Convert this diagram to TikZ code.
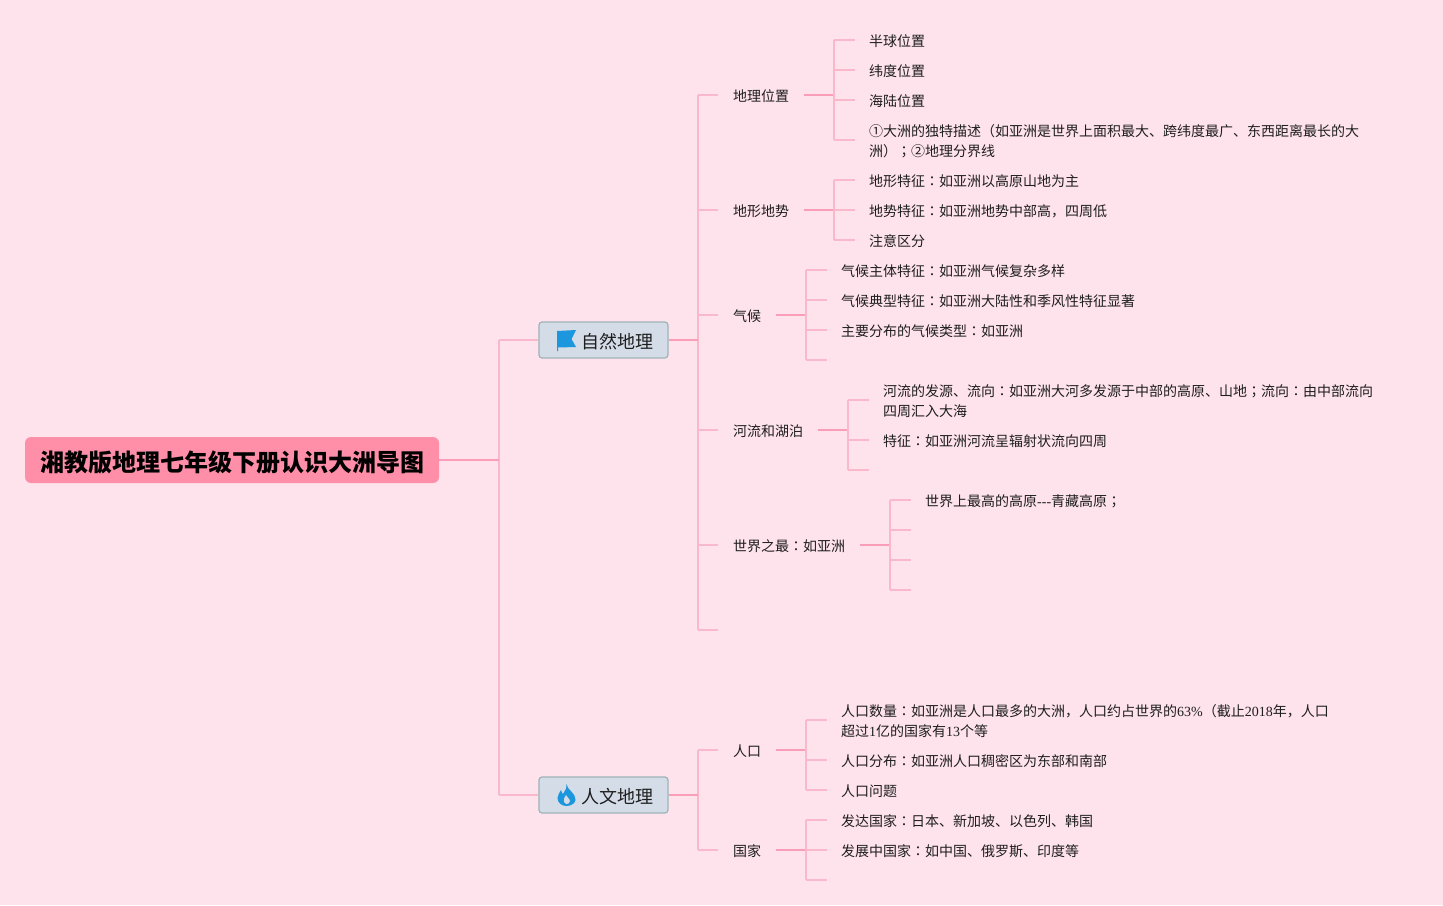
\documentclass[tikz,border=0pt]{standalone}
\usepackage{fontspec}
\setmainfont{Noto Sans CJK SC}
\newfontfamily\latf[Ligatures=NoCommon]{Liberation Serif}
\newfontfamily\tcf{Noto Sans CJK TC}
\newcommand{\lt}[1]{{\latf #1}}
\newcommand{\cc}{{\tcf ：}}
\newcommand{\sm}{{\tcf ；}}
\definecolor{bgc}{HTML}{FEE3EC}
\definecolor{rootc}{HTML}{FF8FA9}
\definecolor{linec}{HTML}{F9B8CC}
\definecolor{linedc}{HTML}{F99DB9}
\definecolor{boxc}{HTML}{D4DCE8}
\definecolor{boxl}{HTML}{9DB3B8}
\definecolor{iconc}{HTML}{1C96DC}
\definecolor{txtc}{HTML}{1E1E1E}
\tikzset{
 x=1pt,y=-1pt,
 every node/.style={font=\fontsize{14}{20}\selectfont,text=txtc},
 conn/.style={draw=linec,line width=1.4pt},
 conn2/.style={draw=linedc,line width=1.6pt},
 leaf/.style={anchor=west,inner sep=0pt,align=left,yshift=-0.6pt},
 lbl/.style={anchor=west,inner sep=0pt,yshift=-0.6pt},
 rootbox/.style={fill=rootc,rounded corners=6pt,inner sep=0pt,minimum width=414pt,minimum height=46pt},
 roottext/.style={anchor=center,inner sep=0pt,text=black,font=\fontsize{24}{30}\selectfont\bfseries},
 mainbox/.style={fill=boxc,draw=boxl,line width=1.2pt,rounded corners=3pt,inner sep=0pt,minimum width=129pt,minimum height=36pt},
}
\begin{document}
\begin{tikzpicture}
\useasboundingbox (0,0) rectangle (1443,905);
\fill[bgc] (0,0) rectangle (1443,905);
% trunks
\coordinate (t0a) at (499,340); \coordinate (t0b) at (499,795); \coordinate (t0m) at (499,460);
\coordinate (t1a) at (698,95); \coordinate (t1b) at (698,630); \coordinate (t1m) at (698,340);
\coordinate (t2a) at (698,750); \coordinate (t2b) at (698,850); \coordinate (t2m) at (698,795);
\coordinate (j630) at (698,630); \coordinate (s630) at (718,630);
\node[rootbox] (root) at (232,460) {};
\node[roottext] (roott) at (232.5,462) {湘教版地理七年级下册认识大洲导图};
\node[mainbox] (nat) at (603.5,340) {};
\node[mainbox] (hum) at (603.5,795) {};
\node[lbl] (natt) at (581,341.5) {\fontsize{18}{20}\selectfont 自然地理};
\node[lbl] (humt) at (581,796) {\fontsize{18}{20}\selectfont 人文地理};
% icons
\fill[iconc] (557,331) -- (576,330) -- (571.5,339) -- (576,347) -- (558,347.5) -- (558,351) -- (557,351) -- cycle;
\fill[iconc] (566.5,784) .. controls (567,790) and (576,793) .. (575.5,800) .. controls (575,804) and (570,806) .. (566.5,806)
  .. controls (562,806) and (557.5,803) .. (557.5,798) .. controls (557.5,795) and (560,792) .. (561,790)
  .. controls (561.5,792) and (562,793) .. (563,794) .. controls (565,791) and (567,788) .. (566.5,784) -- cycle;
\fill[boxc] (566.5,804) .. controls (563,803) and (563,799) .. (566,795) .. controls (566.5,797) and (570,799) .. (570,801) .. controls (570,803) and (568,804) .. (566.5,804) -- cycle;
\draw[conn] (t0a) -- (t0b);
\draw[conn2] (root.east) -- (t0m);
\draw[conn] (t0a) -- (nat.west);
\draw[conn] (t0b) -- (hum.west);
\draw[conn] (t1a) -- (t1b);
\draw[conn] (t2a) -- (t2b);
\draw[conn] (j630) -- (s630);
\draw[conn2] (nat.east) -- (t1m);
\draw[conn2] (hum.east) -- (t2m);
% level 2
\foreach \n/\y/\lx/\jx/\txt in {a/95/804/834/地理位置,b/210/804/834/地形地势,c/315/776/806/气候,d/430/818/848/河流和湖泊,e/545/860/890/世界之最\cc 如亚洲,f/750/776/806/人口,g/850/776/806/国家}{
  \coordinate (s\n) at (718,\y);
  \coordinate (j\n) at (698,\y);
  \coordinate (l\n) at (\lx,\y);
  \coordinate (k\n) at (\jx,\y);
  \draw[conn] (j\n) -- (s\n);
  \draw[conn2] (l\n) -- (k\n);
  \node[lbl] (n\n) at (733,\y+1) {\txt};
}
\foreach \n/\x/\ya/\yb/\list in {a/834/40/140/{40,70,100,140},b/834/180/240/{180,210,240},c/806/270/360/{270,300,330,360},d/848/400/470/{400,440,470},e/890/500/590/{500,530,560,590},f/806/720/790/{720,760,790},g/806/820/880/{820,850,880}}{
  \coordinate (ta\n) at (\x,\ya);
  \coordinate (tb\n) at (\x,\yb);
  \draw[conn] (ta\n) -- (tb\n);
  \foreach \yy in \list {
    \coordinate (u) at (\x,\yy);
    \coordinate (v) at (\x+21,\yy);
    \draw[conn] (u) -- (v);
  }
}
\node[lbl] (a1) at (869,41) {半球位置};
\node[lbl] (a2) at (869,71) {纬度位置};
\node[lbl] (a3) at (869,101) {海陆位置};
\node[leaf] (a4) at (869,141) {①大洲的独特描述（如亚洲是世界上面积最大、跨纬度最广、东西距离最长的大\\洲）\sm ②地理分界线};
\node[lbl] (b1) at (869,181) {地形特征\cc 如亚洲以高原山地为主};
\node[lbl] (b2) at (869,211) {地势特征\cc 如亚洲地势中部高，四周低};
\node[lbl] (b3) at (869,241) {注意区分};
\node[lbl] (c1) at (841,271) {气候主体特征\cc 如亚洲气候复杂多样};
\node[lbl] (c2) at (841,301) {气候典型特征\cc 如亚洲大陆性和季风性特征显著};
\node[lbl] (c3) at (841,331) {主要分布的气候类型\cc 如亚洲};
\node[leaf] (d1) at (883,401) {河流的发源、流向\cc 如亚洲大河多发源于中部的高原、山地\sm 流向\cc 由中部流向\\四周汇入大海};
\node[lbl] (d2) at (883,441) {特征\cc 如亚洲河流呈辐射状流向四周};
\node[lbl] (e1) at (925,501) {世界上最高的高原\lt{-{}-{}-}青藏高原\sm};
\node[leaf] (f1) at (841,720) {人口数量\cc 如亚洲是人口最多的大洲，人口约占世界的\lt{63\%}（截止\lt{2018}年，人口\\超过\lt{1}亿的国家有\lt{13}个等};
\node[lbl] (f2) at (841,761) {人口分布\cc 如亚洲人口稠密区为东部和南部};
\node[lbl] (f3) at (841,791) {人口问题};
\node[lbl] (g1) at (841,821) {发达国家\cc 日本、新加坡、以色列、韩国};
\node[lbl] (g2) at (841,851) {发展中国家\cc 如中国、俄罗斯、印度等};
\end{tikzpicture}
\end{document}
